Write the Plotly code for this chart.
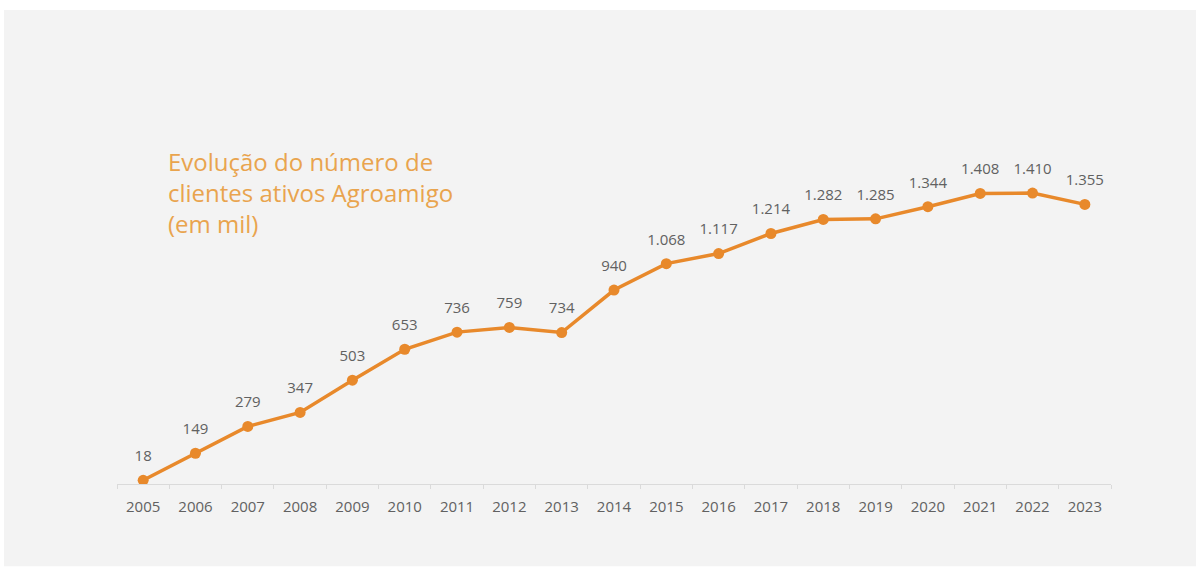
import plotly.graph_objects as go

years = [str(y) for y in range(2005, 2024)]
clients = [18, 149, 279, 347, 503, 653, 736, 759, 734, 940, 1068, 1117, 1214, 1282, 1285, 1344, 1408, 1410, 1355]
labels = ["18", "149", "279", "347", "503", "653", "736", "759", "734", "940", "1.068", "1.117",
          "1.214", "1.282", "1.285", "1.344", "1.408", "1.410", "1.355"]
title_text = "Evolução do número de<br>clientes ativos Agroamigo<br>(em mil)"

W, H = 1196, 567
L, R = 117, 85
T, B = 40, 83.3
pw = W - L - R
ph = H - T - B

line_color = "#e8892b"
text_gray = "#616161"
font = "Open Sans"

fig = go.Figure()
fig.add_trace(go.Scatter(
    x=years, y=clients, mode="lines+markers",
    line=dict(color=line_color, width=3.5),
    marker=dict(color=line_color, size=11),
    hoverinfo="skip", showlegend=False,
))
# data labels (transparent marker pushes the text up)
fig.add_trace(go.Scatter(
    x=years, y=clients, mode="markers+text", text=labels, textposition="top center",
    marker=dict(size=23, color="rgba(0,0,0,0)"),
    textfont=dict(family=font, size=15, color=text_gray),
    hoverinfo="skip", showlegend=False, cliponaxis=False,
))

fig.add_annotation(xref="paper", yref="paper",
                   x=(168 - L) / pw - 0.002, y=(H - B - 143) / ph,
                   xanchor="left", yanchor="top", align="left",
                   text=title_text, showarrow=False,
                   font=dict(family=font, size=24, color="#e9a44e"))

fig.add_shape(type="rect", xref="paper", yref="paper", layer="below",
              x0=(4 - L) / pw, x1=(W + 5 - L) / pw,
              y0=(H - B - 566) / ph, y1=(H - B - 10) / ph,
              fillcolor="#f3f3f3", line=dict(width=0))

fig.update_layout(
    width=W, height=H,
    margin=dict(l=L, r=R, t=T, b=B),
    paper_bgcolor="white", plot_bgcolor="rgba(0,0,0,0)",
    font=dict(family=font),
)
fig.update_xaxes(type="category", range=[-0.5, 18.5], showgrid=False, zeroline=False,
                 showline=True, linecolor="#dadada", linewidth=1,
                 ticks="outside", tickson="boundaries", ticklen=4, tickcolor="#dadada",
                 tickfont=dict(family=font, size=15, color=text_gray),
                 ticklabelstandoff=9)
fig.update_yaxes(range=[0, ph / 0.2062], showticklabels=False, ticks="", showline=False,
                 showgrid=False, zeroline=False)

fig.write_html("out.html")
